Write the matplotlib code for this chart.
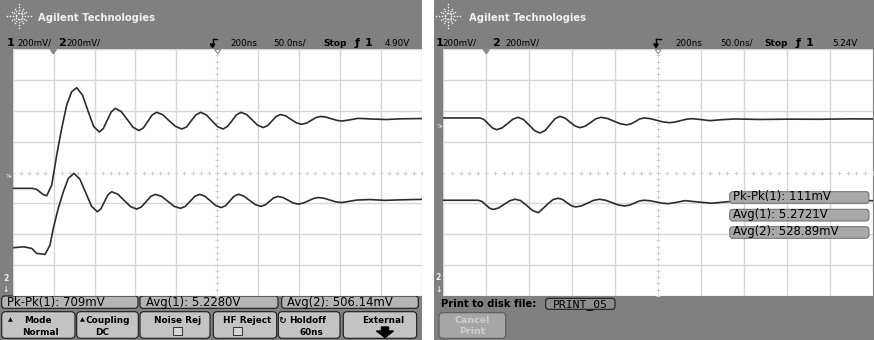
import numpy as np
import matplotlib
matplotlib.use("Agg")
import matplotlib.pyplot as plt
from matplotlib.patches import Rectangle, FancyBboxPatch, Polygon

# ---------------- data: time in ns, voltage in mV measured from screen centre ----------------
left_ch1_t = [-50, -25.6, -20.3, -16.6, -12.3, -8.4, -2.3, 3.8, 9.9, 16.0, 22.1, 28.2, 35.3, 42.1,
              49.0, 55.9, 60.8, 65.6, 70.5, 75.4, 82.6, 90.0, 97.2, 104.4, 109.8, 115.2, 120.4,
              125.8, 133.5, 141.2, 148.9, 156.6, 162.5, 168.3, 174.1, 180.0, 186.8, 193.5, 200.4,
              207.1, 212.6, 218.1, 223.6, 229.1, 235.9, 242.8, 249.5, 256.4, 261.6, 266.9, 272.1,
              277.4, 283.9, 290.3, 296.8, 303.3, 309.2, 315.0, 320.8, 326.6, 333.1, 339.6, 346.1,
              352.6, 362.3, 372.1, 389.2, 407.2, 423.5, 450]
left_ch1_mv = [-102.6, -102.6, -110.4, -126.6, -144.2, -150.6, -81.2, 113.6, 287.0, 438.3, 524.7,
               550.6, 503.2, 399.4, 298.7, 263.0, 285.7, 339.6, 394.2, 416.9, 396.1, 344.8, 293.5,
               272.7, 290.3, 331.8, 373.4, 390.9, 375.3, 336.4, 300.2, 282.5, 296.0, 336.4, 375.3,
               390.9, 373.8, 336.4, 298.1, 282.5, 299.5, 336.4, 375.3, 390.9, 376.6, 341.6, 306.5,
               292.2, 304.5, 334.4, 364.3, 376.6, 367.5, 344.8, 322.7, 313.6, 320.8, 339.0, 357.1,
               364.3, 359.7, 349.3, 339.0, 334.4, 342.2, 351.9, 347.4, 344.2, 348.7, 350.6]
left_ch2_t = [-50, -37.0, -26.8, -20.7, -10.5, -4.4, -0.4, 5.7, 11.9, 18.0, 24.9, 32.0, 39.2, 46.3,
              53.4, 57.8, 62.2, 66.6, 71.0, 78.7, 86.3, 94.0, 101.6, 107.3, 113.0, 118.7, 124.3,
              132.0, 139.7, 147.4, 155.1, 161.0, 166.9, 172.6, 178.5, 185.1, 191.8, 198.4, 205.0,
              210.3, 215.4, 220.7, 225.8, 232.6, 239.6, 246.5, 253.3, 258.6, 263.8, 269.1, 274.3,
              280.6, 286.8, 292.9, 299.1, 305.3, 311.4, 317.5, 323.6, 330.8, 337.9, 345.1, 352.2,
              370.5, 386.8, 405.1, 423.5, 450]
left_ch2_mv = [-488.3, -481.8, -492.2, -524.7, -531.2, -470.8, -362.3, -232.5, -124.7, -37.7, -5.2,
               -41.6, -129.9, -218.2, -254.5, -235.7, -189.6, -143.5, -124.7, -140.9, -181.2, -220.8,
               -237.0, -223.4, -189.6, -155.2, -141.6, -154.5, -187.0, -219.5, -232.5, -219.5, -187.0,
               -154.5, -141.6, -153.9, -184.4, -214.9, -227.3, -214.9, -184.4, -153.2, -140.9, -152.6,
               -180.5, -207.8, -219.5, -210.4, -187.7, -164.3, -155.2, -162.3, -179.9, -197.4, -204.5,
               -198.1, -183.8, -168.8, -162.3, -166.9, -178.6, -190.3, -194.8, -178.6, -175.3, -180.5,
               -177.3, -174.0]
right_ch1_t = [-50, -7.3, -2.7, 2.3, 7.2, 12.1, 18.4, 24.7, 30.9, 37.2, 43.5, 49.9, 56.2, 62.4, 68.3,
               74.1, 79.9, 85.7, 91.5, 97.3, 103.1, 109.0, 115.0, 121.2, 127.2, 133.4, 140.8, 148.4,
               155.8, 163.3, 168.3, 173.4, 178.4, 183.4, 190.8, 198.3, 205.6, 213.0, 219.4, 225.9,
               232.3, 238.8, 248.5, 260.1, 274.1, 289.2, 318.3, 353.1, 388.0, 422.9, 450]
right_ch1_mv = [354.4, 354.4, 344.6, 316.0, 289.3, 278.2, 289.9, 317.9, 346.6, 358.3, 343.3, 307.5,
                271.7, 256.7, 272.3, 310.8, 349.2, 364.8, 353.7, 327.7, 302.3, 291.2, 301.0, 324.4,
                348.5, 358.3, 351.1, 333.6, 316.6, 309.4, 316.0, 331.6, 347.9, 354.4, 349.8, 338.8,
                328.3, 323.8, 327.7, 336.8, 345.9, 349.8, 344.6, 336.8, 343.3, 347.9, 344.6, 346.6,
                345.9, 348.5, 347.9]
right_ch2_t = [-50, -9.3, -5.0, -0.3, 3.8, 8.1, 14.2, 20.8, 27.3, 33.4, 39.8, 47.0, 53.7, 60.5, 65.9,
               72.1, 77.9, 83.7, 88.7, 93.7, 98.7, 103.7, 110.7, 117.7, 124.7, 131.6, 138.8, 146.2,
               153.5, 160.7, 166.4, 172.1, 177.7, 183.4, 190.5, 197.6, 204.5, 211.6, 220.6, 231.0,
               246.2, 262.1, 281.4, 306.6, 341.5, 376.4, 411.3, 450]
right_ch2_mv = [-179.8, -179.8, -187.6, -210.4, -231.3, -239.7, -230.0, -206.5, -183.1, -173.3,
                -181.8, -213.7, -246.3, -260.6, -233.2, -200.7, -174.6, -166.8, -175.2, -195.4,
                -215.0, -223.5, -216.3, -198.7, -180.5, -173.3, -179.8, -195.4, -210.4, -216.9,
                -211.7, -198.7, -185.0, -179.8, -183.1, -190.9, -198.7, -202.0, -194.1, -182.4,
                -190.9, -199.3, -188.9, -187.6, -186.3, -185.7, -184.4, -182.4]

title = "Agilent Technologies"
left_status = ["200mV/", "200mV/", "200ns", "50.0ns/", "Stop", "4.90V"]
right_status = ["200mV/", "200mV/", "200ns", "50.0ns/", "Stop", "5.24V"]
left_meas = ["Pk-Pk(1): 709mV", "Avg(1): 5.2280V", "Avg(2): 506.14mV"]
right_meas = ["Pk-Pk(1): 111mV", "Avg(1): 5.2721V", "Avg(2): 528.89mV"]
button_top = ["Mode", "Coupling", "Noise Rej", "HF Reject", "Holdoff", "External"]
button_bottom = ["Normal", "DC", "", "", "60ns", ""]
print_label = "Print to disk file:"
print_file = "PRINT_05"
cancel_label = ["Cancel", "Print"]

time_grid = list(range(-50, 451, 50))      # 50 ns/div, 200 ns delay
volt_grid = list(range(-800, 801, 200))    # 200 mV/div

# ---------------- figure ----------------
W, H = 874, 340
GRAY = '#808080'
GRID = '#d6d6d6'
TRACE = '#2c2c2c'
GY0, GY1 = 49.3, 295.8

fig = plt.figure(figsize=(W / 100, H / 100), dpi=100)
fig.patch.set_facecolor('white')
bg = fig.add_axes([0, 0, 1, 1], zorder=0)
bg.set_xlim(0, W); bg.set_ylim(H, 0); bg.axis('off')
fg = fig.add_axes([0, 0, 1, 1], zorder=5)
fg.set_xlim(0, W); fg.set_ylim(H, 0); fg.axis('off')


def T(x, y, s, size, ax=bg, ha='left', weight='normal', color='black', family='DejaVu Sans'):
    ax.text(x, y, s, fontsize=size, ha=ha, va='baseline', weight=weight, color=color,
            family=family)


def rbox(ax, x0, x1, y0, y1, fc, ec='#1a1a1a', lw=0.8, r=3):
    ax.add_patch(FancyBboxPatch((x0, y0), x1 - x0, y1 - y0,
                                boxstyle=f"round,pad=0,rounding_size={r}",
                                fc=fc, ec=ec, lw=lw))


def logo(cx, cy):
    for k in range(12):
        a = k * np.pi / 6
        rs = np.array([3.0, 6.0, 9.0, 12.0]) if k % 3 == 0 else np.array([3.0, 6.0, 8.5])
        bg.scatter(cx + np.cos(a) * rs, cy + np.sin(a) * rs, s=1.3, color='#f4f4f4', lw=0)


def delay_marker(x):
    bg.plot([x, x], [38.5, 45], color='black', lw=1)
    bg.plot([x, x + 4.5], [38.5, 38.5], color='black', lw=1)
    bg.add_patch(Polygon([[x - 2.2, 44], [x + 2.2, 44], [x, 47.5]], closed=True, color='black'))


def panel(px0, px1, gx0, gx1, t1, v1, t2, v2):
    bg.add_patch(Rectangle((px0, 0), px1 - px0, H, color=GRAY, lw=0))
    ax = fig.add_axes([gx0 / W, 1 - GY1 / H, (gx1 - gx0) / W, (GY1 - GY0) / H], zorder=2)
    ax.set_facecolor('white')
    ax.set_xlim(time_grid[0], time_grid[-1])
    ax.set_ylim(volt_grid[0], volt_grid[-1])
    for t in time_grid:
        if t != 200:
            ax.axvline(t, color=GRID, lw=1.0)
    for v in volt_grid:
        if v != 0:
            ax.axhline(v, color=GRID, lw=1.0)
    mt = [t for t in range(-50, 451, 10)]
    ax.plot(mt, [0] * len(mt), ls='none', marker='+', ms=3.3, mew=0.7, color='#cfcfcf')
    mv = [v for v in range(-800, 801, 40)]
    ax.plot([200] * len(mv), mv, ls='none', marker='+', ms=3.3, mew=0.7, color='#cfcfcf')
    ax.plot(t1, v1, color=TRACE, lw=1.2)
    ax.plot(t2, v2, color=TRACE, lw=1.2)
    for s in ax.spines.values():
        s.set_visible(False)
    ax.set_xticks([]); ax.set_yticks([])
    return ax


# ---------------- left screen ----------------
panel(0, 422, 12.7, 421.7, left_ch1_t, left_ch1_mv, left_ch2_t, left_ch2_mv)
logo(19, 16)
T(38, 21, title, 7.2, weight='bold', color='#f2f2f2')
T(6.5, 46.5, "1", 8, weight='bold')
T(17.5, 46, left_status[0], 6.3)
T(58.5, 46.5, "2", 8, weight='bold')
T(66, 46, left_status[1], 6.3)
delay_marker(212.5)
T(230, 46, left_status[2], 6.3)
T(273, 46, left_status[3], 6.3)
T(323, 46, left_status[4], 6.5, weight='bold')
T(355, 46.5, "ƒ", 8, weight='bold')
T(365, 46.5, "1", 8, weight='bold')
T(385, 46, left_status[5], 6.3)

for (x0, x1), s in zip([(1.7, 138), (140, 278), (281.7, 418.3)], left_meas):
    rbox(bg, x0, x1, 296, 308.3, '#b4b4b4')
    T(x0 + 5.5, 306, s, 8.4)

btn_x = [(1.7, 75), (76.7, 138.3), (140, 210), (213.3, 276.7), (278.3, 340), (343.3, 416.7)]
top_cx = [38, 108, 177.5, 247, 308, 383.5]
bot_cx = [40.5, 102, 0, 0, 311, 0]
for i, (x0, x1) in enumerate(btn_x):
    rbox(bg, x0, x1, 311.7, 338.3, '#c3c3c3', r=4)
    T(top_cx[i], 322.7, button_top[i], 6.4, ha='center', weight='bold')
    if button_bottom[i]:
        T(bot_cx[i], 334.8, button_bottom[i], 6.4, ha='center', weight='bold')
T(8, 321.5, "▲", 4.5)
T(79.5, 321.5, "▲", 4.5)
T(278.5, 322.7, "↻", 6.6, weight='bold')
for cx in (177.5, 237.5):
    bg.add_patch(Rectangle((cx - 4.5, 326.5), 9, 8, fc='#d6d6d6', ec='#303030', lw=0.7))
bg.add_patch(Polygon([[381.5, 327], [388.5, 327], [388.5, 331], [393.5, 331], [385, 337.5],
                      [376.5, 331], [381.5, 331]], closed=True, color='black'))
T(5, 177.5, "T▸", 4.6, color='#d6d6d6')
T(3, 281, "2", 5.5, weight='bold', color='#f0f0f0')
T(3, 292.5, "↓", 5.5, weight='bold', color='#f0f0f0')
fg.add_patch(Polygon([[50.3, 49.5], [56.3, 49.5], [53.3, 53.8]], closed=True, color='#8a8a8a'))
fg.add_patch(Polygon([[214.7, 49.5], [220.7, 49.5], [217.7, 53.8]], closed=True,
                     fc='white', ec='#8a8a8a', lw=0.8))

# ---------------- right screen ----------------
panel(434, 874, 443.3, 873.3, right_ch1_t, right_ch1_mv, right_ch2_t, right_ch2_mv)
logo(448, 16)
T(469, 21, title, 7.2, weight='bold', color='#f2f2f2')
T(435.7, 46.5, "1", 8, weight='bold')
T(442, 46, right_status[0], 6.3)
T(492, 46.5, "2", 8, weight='bold')
T(505, 46, right_status[1], 6.3)
delay_marker(656)
T(675.7, 46, right_status[2], 6.3)
T(720.7, 46, right_status[3], 6.3)
T(764, 46, right_status[4], 6.5, weight='bold')
T(795.5, 46.5, "ƒ", 8, weight='bold')
T(806, 46.5, "1", 8, weight='bold')
T(832, 46, right_status[5], 6.3)

for (y0, y1), s in zip([(191.7, 203.3), (209.3, 221.0), (226.7, 238.3)], right_meas):
    rbox(fg, 729.7, 869, y0, y1, '#a9a9a9', ec='#6a6a6a', lw=0.7)
    T(733, y1 - 3, s, 8.4, ax=fg)

T(441, 306.7, print_label, 7.2, weight='bold')
rbox(bg, 545.7, 615, 298.3, 309.3, '#8e8e8e', r=3)
T(580.3, 307, print_file, 8.2, ha='center', family='DejaVu Sans Mono')
rbox(bg, 439, 505.7, 312.7, 338.3, '#a6a6a6', ec='#5a5a5a', r=4)
T(472.3, 323, cancel_label[0], 6.8, ha='center', weight='bold', color='#cdcdcd')
T(472.3, 334.3, cancel_label[1], 6.8, ha='center', weight='bold', color='#cdcdcd')
T(436, 128.5, "T▸", 4.6, color='#d6d6d6')
T(435.5, 280.5, "2", 5.5, weight='bold', color='#f0f0f0')
T(435.5, 292.5, "↓", 5.5, weight='bold', color='#f0f0f0')
fg.add_patch(Polygon([[483.3, 49.5], [489.3, 49.5], [486.3, 53.8]], closed=True, color='#8a8a8a'))
fg.add_patch(Polygon([[655.3, 49.5], [661.3, 49.5], [658.3, 53.8]], closed=True,
                     fc='white', ec='#8a8a8a', lw=0.8))

fig.savefig("out.png", dpi=100, facecolor='white')
